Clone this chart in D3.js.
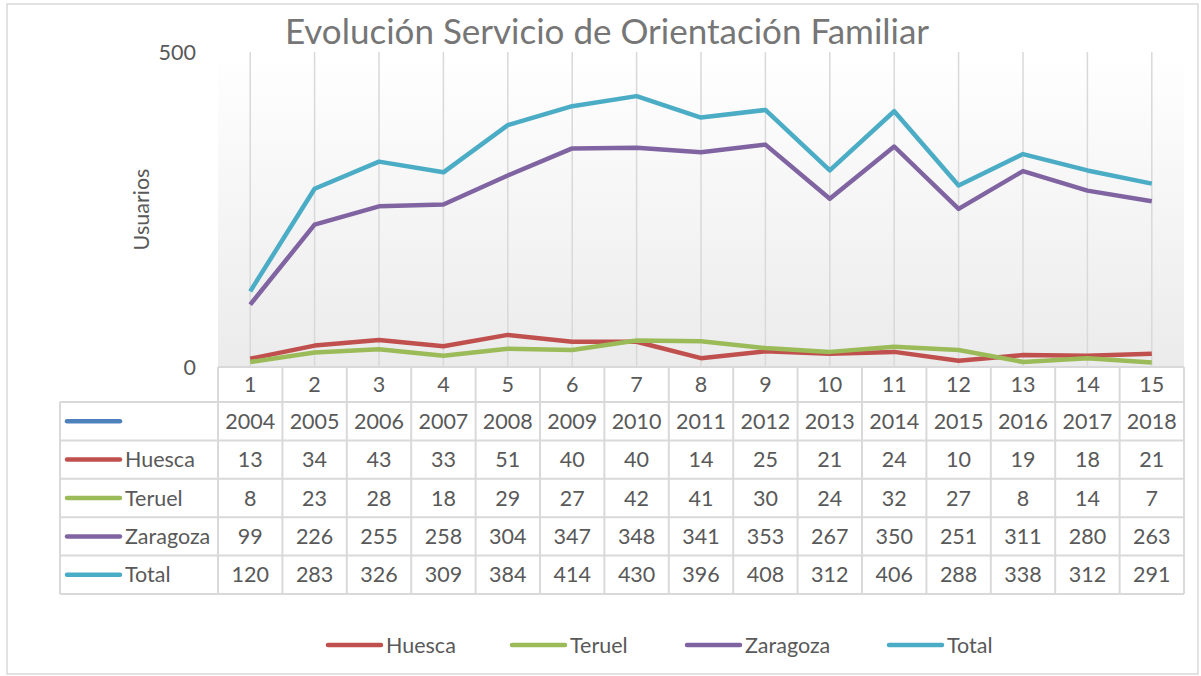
<!DOCTYPE html>
<html>
<head>
<meta charset="utf-8">
<script src="https://cdn.jsdelivr.net/npm/d3@7"></script>
<style>
  body { margin: 0; background: #fff; }
  text { font-family: Lato, "Open Sans", sans-serif; fill: #595959; }
</style>
</head>
<body>
<div id="chart"></div>
<script>
var categories = [1, 2, 3, 4, 5, 6, 7, 8, 9, 10, 11, 12, 13, 14, 15],
    years = [2004, 2005, 2006, 2007, 2008, 2009, 2010, 2011, 2012, 2013, 2014, 2015, 2016, 2017, 2018],
    huesca = [13, 34, 43, 33, 51, 40, 40, 14, 25, 21, 24, 10, 19, 18, 21],
    teruel = [8, 23, 28, 18, 29, 27, 42, 41, 30, 24, 32, 27, 8, 14, 7],
    zaragoza = [99, 226, 255, 258, 304, 347, 348, 341, 353, 267, 350, 251, 311, 280, 263],
    total = [120, 283, 326, 309, 384, 414, 430, 396, 408, 312, 406, 288, 338, 312, 291],
    yTicks = [0, 500];

var series = [
  {name: '', values: years, color: '#4f81bd', plot: false},
  {name: 'Huesca', values: huesca, color: '#c0504d', plot: true},
  {name: 'Teruel', values: teruel, color: '#9bbb59', plot: true},
  {name: 'Zaragoza', values: zaragoza, color: '#8064a2', plot: true},
  {name: 'Total', values: total, color: '#4bacc6', plot: true}
];

var svgWidth = 1201, svgHeight = 676,
    plotLeft = 218, plotRight = 1184, plotTop = 52, plotBottom = 367,
    tableLeft = 60, rowH = 38.4, headH = 35,
    fontSize = '21.5px';

var svg = d3.select('#chart').append('svg')
  .attr('width', svgWidth).attr('height', svgHeight);

// background gradient of the plot area
var grad = svg.append('defs').append('linearGradient')
  .attr('id', 'bg').attr('x1', 0).attr('x2', 0).attr('y1', 0).attr('y2', 1);
grad.append('stop').attr('offset', '0%').attr('stop-color', '#ffffff');
grad.append('stop').attr('offset', '100%').attr('stop-color', '#ebebeb');

// outer border
svg.append('rect')
  .attr('x', 7).attr('y', 4).attr('width', 1191).attr('height', 670)
  .attr('fill', '#fff').attr('stroke', '#d9d9d9').attr('stroke-width', 1.5);

var x = d3.scaleBand().domain(categories).range([plotLeft, plotRight]);
var y = d3.scaleLinear().domain([0, 500]).range([plotBottom, plotTop]);
var cx = function(c){ return x(c) + x.bandwidth() / 2; };

svg.append('rect')
  .attr('x', plotLeft).attr('y', plotTop)
  .attr('width', plotRight - plotLeft).attr('height', plotBottom - plotTop)
  .attr('fill', 'url(#bg)');

// vertical gridlines at each category
svg.append('g').selectAll('line')
  .data(categories)
  .enter().append('line')
  .attr('x1', cx).attr('x2', cx)
  .attr('y1', plotTop).attr('y2', plotBottom)
  .attr('stroke', '#d9d9d9').attr('stroke-width', 1.5);

// y axis tick labels
svg.append('g').selectAll('text')
  .data(yTicks)
  .enter().append('text')
  .attr('x', 196).attr('y', function(d){ return y(d); })
  .attr('dy', '0.35em')
  .attr('text-anchor', 'end')
  .style('font-size', fontSize)
  .text(function(d){ return d; });

svg.append('text')
  .attr('transform', 'translate(141,' + ((plotTop + plotBottom) / 2 - 0) + ') rotate(-90)')
  .attr('text-anchor', 'middle')
  .attr('dy', '0.35em')
  .style('font-size', fontSize)
  .text('Usuarios');

// title
svg.append('text')
  .attr('x', 607).attr('y', 44)
  .attr('text-anchor', 'middle')
  .style('font-size', '35px')
  .style('fill', '#767676')
  .text('Evolución Servicio de Orientación Familiar');

// lines
var line = d3.line()
  .x(function(d, i){ return cx(categories[i]); })
  .y(function(d){ return y(d); });

svg.append('g').selectAll('path')
  .data(series.filter(function(s){ return s.plot; }))
  .enter().append('path')
  .attr('d', function(s){ return line(s.values); })
  .attr('fill', 'none')
  .attr('stroke', function(s){ return s.color; })
  .attr('stroke-width', 4.5)
  .attr('stroke-linejoin', 'round');

// data table
var table = svg.append('g');
var tableBottom = plotBottom + headH + rowH * series.length;
var gridColor = '#d9d9d9';

// horizontal lines
var hLines = [plotBottom + headH];
series.forEach(function(s, i){ hLines.push(plotBottom + headH + rowH * (i + 1)); });
table.selectAll('line.h')
  .data(hLines)
  .enter().append('line')
  .attr('x1', tableLeft).attr('x2', plotRight)
  .attr('y1', function(d){ return d; }).attr('y2', function(d){ return d; })
  .attr('stroke', gridColor).attr('stroke-width', 2);
table.append('line')
  .attr('x1', plotLeft).attr('x2', plotRight).attr('y1', plotBottom).attr('y2', plotBottom)
  .attr('stroke', gridColor).attr('stroke-width', 2);

// vertical lines
var vLines = categories.map(function(c){ return x(c); }).concat([plotRight]);
table.selectAll('line.v')
  .data(vLines)
  .enter().append('line')
  .attr('x1', function(d){ return d; }).attr('x2', function(d){ return d; })
  .attr('y1', plotBottom).attr('y2', tableBottom)
  .attr('stroke', gridColor).attr('stroke-width', 2);
table.append('line')
  .attr('x1', tableLeft).attr('x2', tableLeft)
  .attr('y1', plotBottom + headH).attr('y2', tableBottom)
  .attr('stroke', gridColor).attr('stroke-width', 2);

// header numbers
table.selectAll('text.head')
  .data(categories)
  .enter().append('text')
  .attr('x', cx).attr('y', plotBottom + headH / 2)
  .attr('dy', '0.35em').attr('text-anchor', 'middle')
  .style('font-size', fontSize)
  .text(function(d){ return d; });

series.forEach(function(s, i){
  var rowY = plotBottom + headH + rowH * i + rowH / 2;
  table.append('line')
    .attr('x1', 67).attr('x2', 120).attr('y1', rowY).attr('y2', rowY)
    .attr('stroke', s.color).attr('stroke-width', 4.5)
    .attr('stroke-linecap', 'round');
  table.append('text')
    .attr('x', 125).attr('y', rowY).attr('dy', '0.35em')
    .style('font-size', fontSize)
    .text(s.name);
  table.selectAll(null)
    .data(s.values)
    .enter().append('text')
    .attr('x', function(d, j){ return cx(categories[j]); })
    .attr('y', rowY).attr('dy', '0.35em')
    .attr('text-anchor', 'middle')
    .style('font-size', fontSize)
    .text(function(d){ return d; });
});

// bottom legend
var legendItems = series.filter(function(s){ return s.plot; });
var legendX = [328, 512, 687, 889];
var legend = svg.append('g').selectAll('g')
  .data(legendItems)
  .enter().append('g')
  .attr('transform', function(d, i){ return 'translate(' + legendX[i] + ',645)'; });
legend.append('line')
  .attr('x1', 0).attr('x2', 53)
  .attr('stroke', function(d){ return d.color; })
  .attr('stroke-width', 4.5).attr('stroke-linecap', 'round');
legend.append('text')
  .attr('x', 58).attr('dy', '0.35em')
  .style('font-size', fontSize)
  .text(function(d){ return d.name; });
</script>
</body>
</html>
